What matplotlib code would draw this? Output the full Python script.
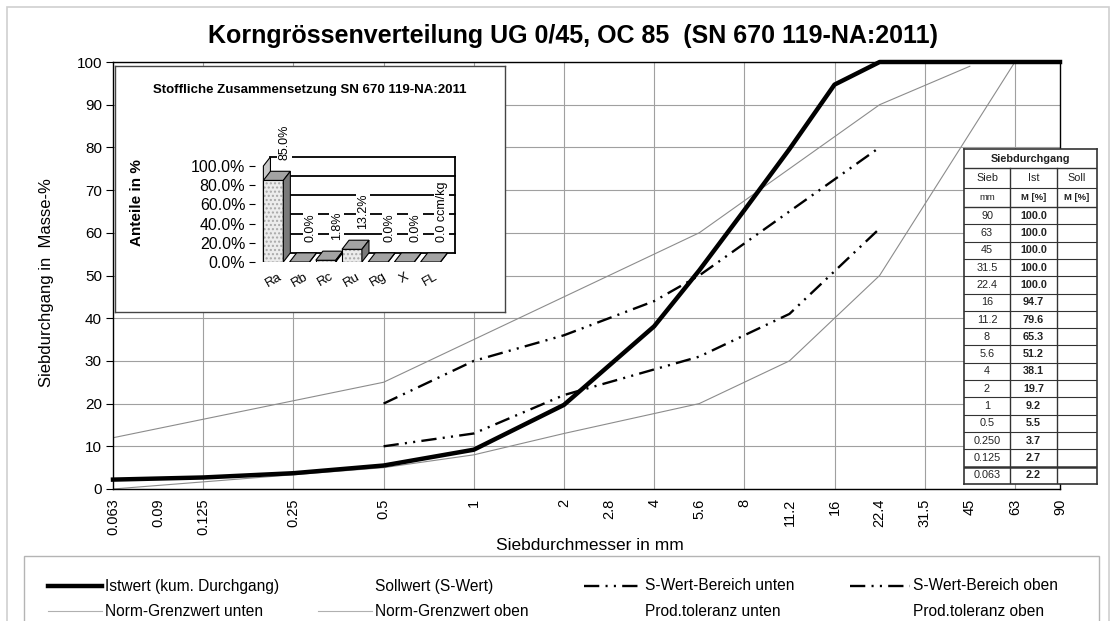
import numpy as np
import matplotlib.pyplot as plt
from matplotlib.patches import Rectangle, Polygon
from matplotlib.lines import Line2D

plt.rcParams['font.family'] = ['Liberation Sans', 'DejaVu Sans']
plt.rcParams['lines.scale_dashes'] = False

W, H = 1114, 621  # canvas size in pixels

# sieve series, one axis step per sieve
sieve_series = [0.063, 0.09, 0.125, 0.18, 0.25, 0.355, 0.5, 0.71, 1, 1.4, 2,
                2.8, 4, 5.6, 8, 11.2, 16, 22.4, 31.5, 45, 63, 90]
tick_sizes = [0.063, 0.09, 0.125, 0.25, 0.5, 1, 2, 2.8, 4, 5.6, 8, 11.2, 16,
              22.4, 31.5, 45, 63, 90]
tick_labels = ['0.063', '0.09', '0.125', '0.25', '0.5', '1', '2', '2.8', '4',
               '5.6', '8', '11.2', '16', '22.4', '31.5', '45', '63', '90']
grid_sizes = [0.125, 0.25, 0.5, 1, 2, 4, 8, 16, 31.5, 63]

# measured passing (Istwert)
ist_sieb = [90, 63, 45, 31.5, 22.4, 16, 11.2, 8, 5.6, 4, 2, 1, 0.5, 0.25, 0.125, 0.063]
ist_sieb_labels = ['90', '63', '45', '31.5', '22.4', '16', '11.2', '8', '5.6', '4',
                   '2', '1', '0.5', '0.250', '0.125', '0.063']
ist_pass = [100.0, 100.0, 100.0, 100.0, 100.0, 94.7, 79.6, 65.3, 51.2, 38.1,
            19.7, 9.2, 5.5, 3.7, 2.7, 2.2]

# norm limits
norm_lo_sieb = [0.063, 0.5, 1, 2, 5.6, 11.2, 16, 22.4, 63]
norm_lo = [0, 5, 8, 13, 20, 30, 40, 50, 100]
norm_hi_sieb = [0.063, 0.5, 1, 2, 5.6, 22.4, 45]
norm_hi = [12, 25, 35, 45, 60, 90, 99]

# S-value range
s_sieb = [0.5, 1, 2, 4, 5.6, 8, 11.2, 16, 22.4]
s_lo = [10, 13, 22, 28, 31, 36, 41, 51, 61]
s_hi = [20, 30, 36, 44, 50, 57.5, 65, 72.5, 80]

# material composition
comp_cat = ['Ra', 'Rb', 'Rc', 'Ru', 'Rg', 'X', 'FL']
comp_val = [85.0, 0.0, 1.8, 13.2, 0.0, 0.0, 0.0]
comp_lbl = ['85.0%', '0.0%', '1.8%', '13.2%', '0.0%', '0.0%', '0.0 ccm/kg']


def px_box(x0, y0, x1, y1):
    # pixel box (top-left origin) -> figure fraction rect
    return [x0 / W, 1 - y1 / H, (x1 - x0) / W, (y1 - y0) / H]


log_series = np.log(sieve_series)
steps = np.arange(len(sieve_series))


def fwd(x):
    return np.interp(np.log(np.clip(x, 1e-9, None)), log_series, steps)


def inv(i):
    return np.exp(np.interp(i, steps, log_series))


sdash = (0, (11, 4.5, 1.5, 4.5, 1.5, 4.5))
gray_line = '#8c8c8c'

fig = plt.figure(figsize=(W / 100, H / 100), dpi=100)

# main grading chart
ax = fig.add_axes(px_box(113, 62, 1060, 489))
ax.set_xscale('function', functions=(fwd, inv))
ax.set_xlim(0.063, 90)
ax.set_ylim(0, 100)
for g in grid_sizes:
    ax.axvline(g, color='#a0a0a0', lw=0.8, zorder=0)
ax.set_yticks(range(0, 101, 10))
ax.yaxis.grid(True, color='#a0a0a0', lw=0.8)
ax.set_axisbelow(True)
ax.set_xticks(tick_sizes)
ax.set_xticklabels(tick_labels, rotation=90)
ax.xaxis.set_minor_locator(plt.NullLocator())
ax.tick_params(axis='x', length=0, pad=7, labelsize=10.5)
ax.tick_params(axis='y', length=5, direction='out', labelsize=11, pad=3)
for sp in ax.spines.values():
    sp.set_linewidth(1.0)

ax.plot(norm_lo_sieb, norm_lo, color=gray_line, lw=0.8)
ax.plot(norm_hi_sieb, norm_hi, color=gray_line, lw=0.8)
ax.plot(s_sieb, s_lo, color='black', lw=1.7, linestyle=sdash)
ax.plot(s_sieb, s_hi, color='black', lw=1.7, linestyle=sdash)
ax.plot(ist_sieb, ist_pass, color='black', lw=3.2, clip_on=False, zorder=5)

fig.text(573 / W, 1 - 43 / H, 'Korngrössenverteilung UG 0/45, OC 85  (SN 670 119-NA:2011)',
         ha='center', va='baseline', fontsize=18, fontweight='bold')
fig.text(47 / W, 1 - 283 / H, 'Siebdurchgang in  Masse-%', rotation=90,
         ha='center', va='center', fontsize=12)
fig.text(590 / W, 1 - 545 / H, 'Siebdurchmesser in mm', ha='center', va='center',
         fontsize=12.5)

# composition inset
ax_box = fig.add_axes(px_box(115, 66, 505, 312))
ax_box.set_xticks([])
ax_box.set_yticks([])
for sp in ax_box.spines.values():
    sp.set_color('#444444')
    sp.set_linewidth(1.0)
ax_box.text(0.5, (312 - 90) / 246, 'Stoffliche Zusammensetzung SN 670 119-NA:2011',
            transform=ax_box.transAxes, ha='center', va='center',
            fontsize=9.5, fontweight='bold')
fig.text(137 / W, 1 - 203 / H, 'Anteile in %', rotation=90, ha='center', va='center',
         fontsize=11, fontweight='bold')

ax_bar = fig.add_axes(px_box(255, 140, 470, 262))
ax_bar.set_xlim(-0.7, -0.7 + 215 / 26.2)
ax_bar.set_ylim(0, 122 / 0.96)
ax_bar.patch.set_visible(False)
for sp in ax_bar.spines.values():
    sp.set_visible(False)
ax_bar.set_yticks(range(0, 101, 20))
ax_bar.set_yticklabels(['%.1f%%' % v for v in range(0, 101, 20)])
ax_bar.tick_params(axis='y', length=4, pad=3, labelsize=11.5)
ax_bar.set_xticks(range(len(comp_cat)))
ax_bar.set_xticklabels(comp_cat, rotation=30, fontsize=9.5)
ax_bar.tick_params(axis='x', length=0, pad=6)

bw, ddx, ddy = 0.76, 0.27, 9.5
wall_x0 = -bw / 2 + ddx
wall_x1 = 6.95
# left wall and back wall grid
ax_bar.add_patch(Polygon([(-bw / 2, 0), (-bw / 2, 100), (wall_x0, 100 + ddy), (wall_x0, ddy)],
                         closed=True, fc='#c8c8c8', ec='black', lw=0.8, zorder=1))
for lev in range(0, 101, 20):
    ax_bar.plot([wall_x0, wall_x1], [lev + ddy] * 2, color='black', lw=1.3, zorder=1)
ax_bar.plot([wall_x1, wall_x1], [ddy, 100 + ddy], color='black', lw=1.3, zorder=1)

for i, (v, lbl) in enumerate(zip(comp_val, comp_lbl)):
    x0, x1 = i - bw / 2, i + bw / 2
    ax_bar.add_patch(Rectangle((x0, 0), bw, v, fc='#ececec', ec='none', zorder=3))
    ax_bar.add_patch(Rectangle((x0, 0), bw, v, fill=False, hatch='....', ec='#a8a8a8',
                               lw=0, zorder=3))
    ax_bar.add_patch(Rectangle((x0, 0), bw, v, fill=False, ec='black', lw=0.8, zorder=3))
    ax_bar.add_patch(Polygon([(x0, v), (x1, v), (x1 + ddx, v + ddy), (x0 + ddx, v + ddy)],
                             closed=True, fc='#a3a3a3', ec='black', lw=0.8, zorder=3))
    ax_bar.add_patch(Polygon([(x1, 0), (x1 + ddx, ddy), (x1 + ddx, v + ddy), (x1, v)],
                             closed=True, fc='#7a7a7a', ec='black', lw=0.8, zorder=3))
    ax_bar.text(i + 0.42, v + 21, lbl, rotation=90, ha='center', va='bottom',
                fontsize=9, zorder=4,
                bbox=dict(fc='white', ec='none', pad=1.0))

# sieve passing table
tx = [964, 1010, 1057, 1097]
ty = [149, 168, 188, 207]
row_h = (484 - 207) / len(ist_sieb)
ax_tab = fig.add_axes(px_box(964, 149, 1097, 484))
ax_tab.set_xlim(964, 1097)
ax_tab.set_ylim(484, 149)
ax_tab.set_xticks([])
ax_tab.set_yticks([])
for sp in ax_tab.spines.values():
    sp.set_color('#333333')
    sp.set_linewidth(1.2)
tc = '#222222'
ax_tab.text((tx[0] + tx[3]) / 2, (ty[0] + ty[1]) / 2, 'Siebdurchgang', ha='center',
            va='center', fontsize=7.8, fontweight='bold', color=tc)
ax_tab.axhline(ty[1], color='#333333', lw=1.0)
for hdr, sub, col in zip(['Sieb', 'Ist', 'Soll'], ['mm', 'M [%]', 'M [%]'], range(3)):
    cx = (tx[col] + tx[col + 1]) / 2
    ax_tab.text(cx, (ty[1] + ty[2]) / 2, hdr, ha='center', va='center', fontsize=7.8, color=tc)
    ax_tab.text(cx, (ty[2] + ty[3]) / 2, sub, ha='center', va='center', fontsize=6.8,
                color=tc, fontweight='normal' if col == 0 else 'bold')
for xv in tx[1:3]:
    ax_tab.plot([xv, xv], [ty[1], 484], color='#333333', lw=1.0)
ax_tab.axhline(ty[2], color='#333333', lw=0.8)
ax_tab.axhline(ty[3], color='#333333', lw=1.0)
for r, (lab, val) in enumerate(zip(ist_sieb_labels, ist_pass)):
    y0 = ty[3] + r * row_h
    if r > 0:
        ax_tab.axhline(y0, color='#333333', lw=1.8 if r == len(ist_sieb) - 1 else 0.8)
    ax_tab.text((tx[0] + tx[1]) / 2, y0 + row_h / 2, lab, ha='center', va='center',
                fontsize=7.8, color=tc)
    ax_tab.text((tx[1] + tx[2]) / 2, y0 + row_h / 2, '%.1f' % val, ha='center', va='center',
                fontsize=7.8, fontweight='bold', color=tc)

# legend block
fig.add_artist(Rectangle((24 / W, -0.1), 1075 / W, 0.1 + 1 - 556 / H, fill=False,
                         ec='#b4b4b4', lw=1.0, transform=fig.transFigure))
legend_items = [
    (48, 105, 586, 'Istwert (kum. Durchgang)', dict(color='black', lw=3.2)),
    (318, 375, 586, 'Sollwert (S-Wert)', None),
    (584, 645, 586, 'S-Wert-Bereich unten', dict(color='black', lw=1.7, linestyle=sdash)),
    (850, 913, 586, 'S-Wert-Bereich oben', dict(color='black', lw=1.7, linestyle=sdash)),
    (48, 105, 611, 'Norm-Grenzwert unten', dict(color='#b0b0b0', lw=0.8)),
    (318, 375, 611, 'Norm-Grenzwert oben', dict(color='#b0b0b0', lw=0.8)),
    (584, 645, 611, 'Prod.toleranz unten', None),
    (850, 913, 611, 'Prod.toleranz oben', None),
]
for hx, tx0, yy, label, style in legend_items:
    if style is not None:
        fig.add_artist(Line2D([hx / W, (tx0 - 3) / W], [1 - yy / H] * 2,
                              transform=fig.transFigure, **style))
    fig.text(tx0 / W, 1 - yy / H, label, ha='left', va='center', fontsize=11.2)

# outer frame
fig.add_artist(Rectangle((7 / W, -0.1), 1102 / W, 0.1 + 1 - 7 / H, fill=False,
                         ec='#cfcfcf', lw=1.2, transform=fig.transFigure))

fig.savefig('out.png', dpi=100)
